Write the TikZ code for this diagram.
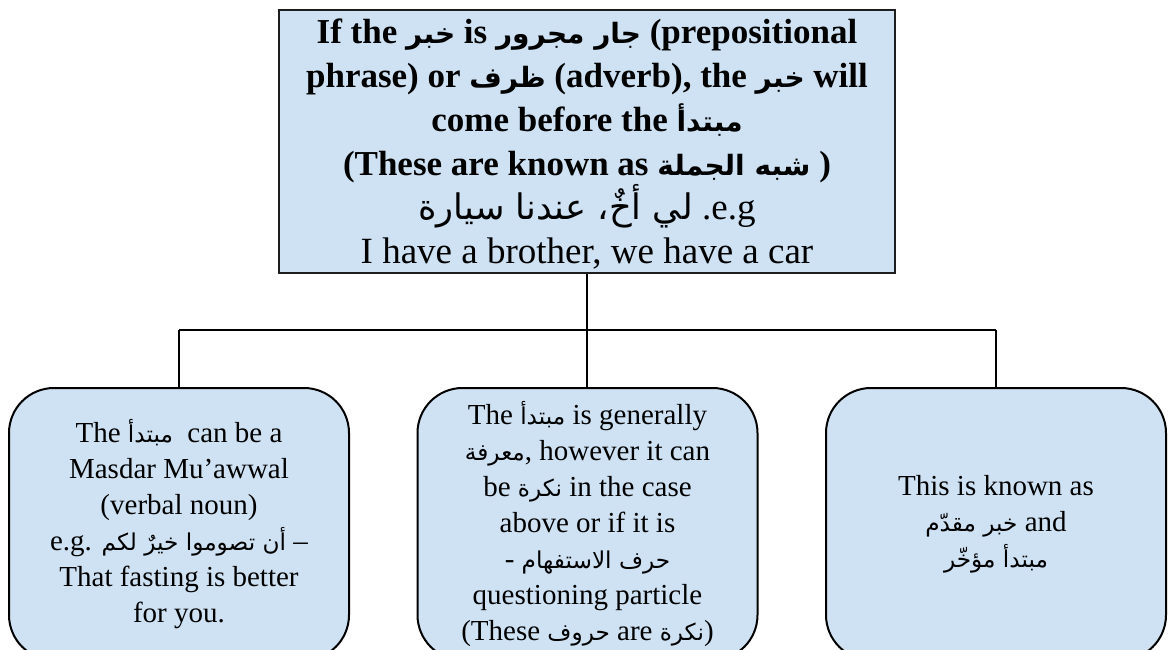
\documentclass[tikz,border=0pt]{standalone}
\usepackage{fontspec}
\setmainfont{Liberation Serif}
\newfontfamily\arfont[Script=Arabic,Scale=0.8]{DejaVu Sans}
\TeXXeTstate=1
\newcommand\artxt[1]{{\arfont\beginR #1\endR}}
\definecolor{boxfill}{RGB}{207,226,243}
\definecolor{boxline}{RGB}{30,30,30}
\tikzset{
  topbox/.style={draw=boxline, line width=2pt, fill=boxfill, minimum width=616pt, minimum height=263pt, inner sep=0pt},
  toptext/.style={inner sep=0pt, align=center, font=\fontsize{35}{44}\selectfont\bfseries},
  subbox/.style={draw=black, line width=2pt, fill=boxfill, rounded corners=45pt, minimum width=340pt, minimum height=272pt, inner sep=0pt, align=center, font=\fontsize{29}{36}\selectfont},
  link/.style={draw=black, line width=1.8pt}
}
\begin{document}
\begin{tikzpicture}[x=1pt,y=-1pt]
\useasboundingbox (0,0) rectangle (1168,650);
\clip (0,0) rectangle (1168,650);
\node[topbox] (top) at (587,141.5) {};
\node[toptext] (toptxt) at (587,144.5) {If the \artxt{خبر} is \artxt{جار مجرور} (prepositional\\
phrase) or \artxt{ظرف} (adverb), the \artxt{خبر} will\\
come before the \artxt{مبتدأ}\\
(These are known as \artxt{شبه الجملة} )\\
{\mdseries\fontsize{37}{44}\selectfont {\fontsize{44}{44}\selectfont\artxt{لي أخٌ، عندنا سيارة}} .e.g}\\
{\mdseries\fontsize{37}{44}\selectfont I have a brother, we have a car}};
\node[subbox] (left) at (179,524) {The \artxt{مبتدأ}\ \ can be a\\
Masdar Mu’awwal\\
(verbal noun)\\
e.g. \artxt{أن تصوموا خيرٌ لكم} –\\
That fasting is better\\
for you.};
\node[subbox] (mid) at (587.5,524) {The \artxt{مبتدأ} is generally\\
\artxt{معرفة}, however it can\\
be \artxt{نكرة} in the case\\
above or if it is\\
- \artxt{حرف الاستفهام}\\
questioning particle\\
(These \artxt{حروف} are \artxt{نكرة})};
\node[subbox] (right) at (996,524) {This is known as\\
\artxt{خبر مقدّم} and\\
\artxt{مبتدأ مؤخّر}};
\coordinate (hub) at (587,330);
\coordinate (hl) at (179,330);
\coordinate (hr) at (996,330);
\draw[link] (top.south) -- (hub);
\draw[link] (hl) -- (hr);
\draw[link] (hl) -- (left.north);
\draw[link] (hub) -- (mid.north -| hub);
\draw[link] (hr) -- (right.north);
\end{tikzpicture}
\end{document}
